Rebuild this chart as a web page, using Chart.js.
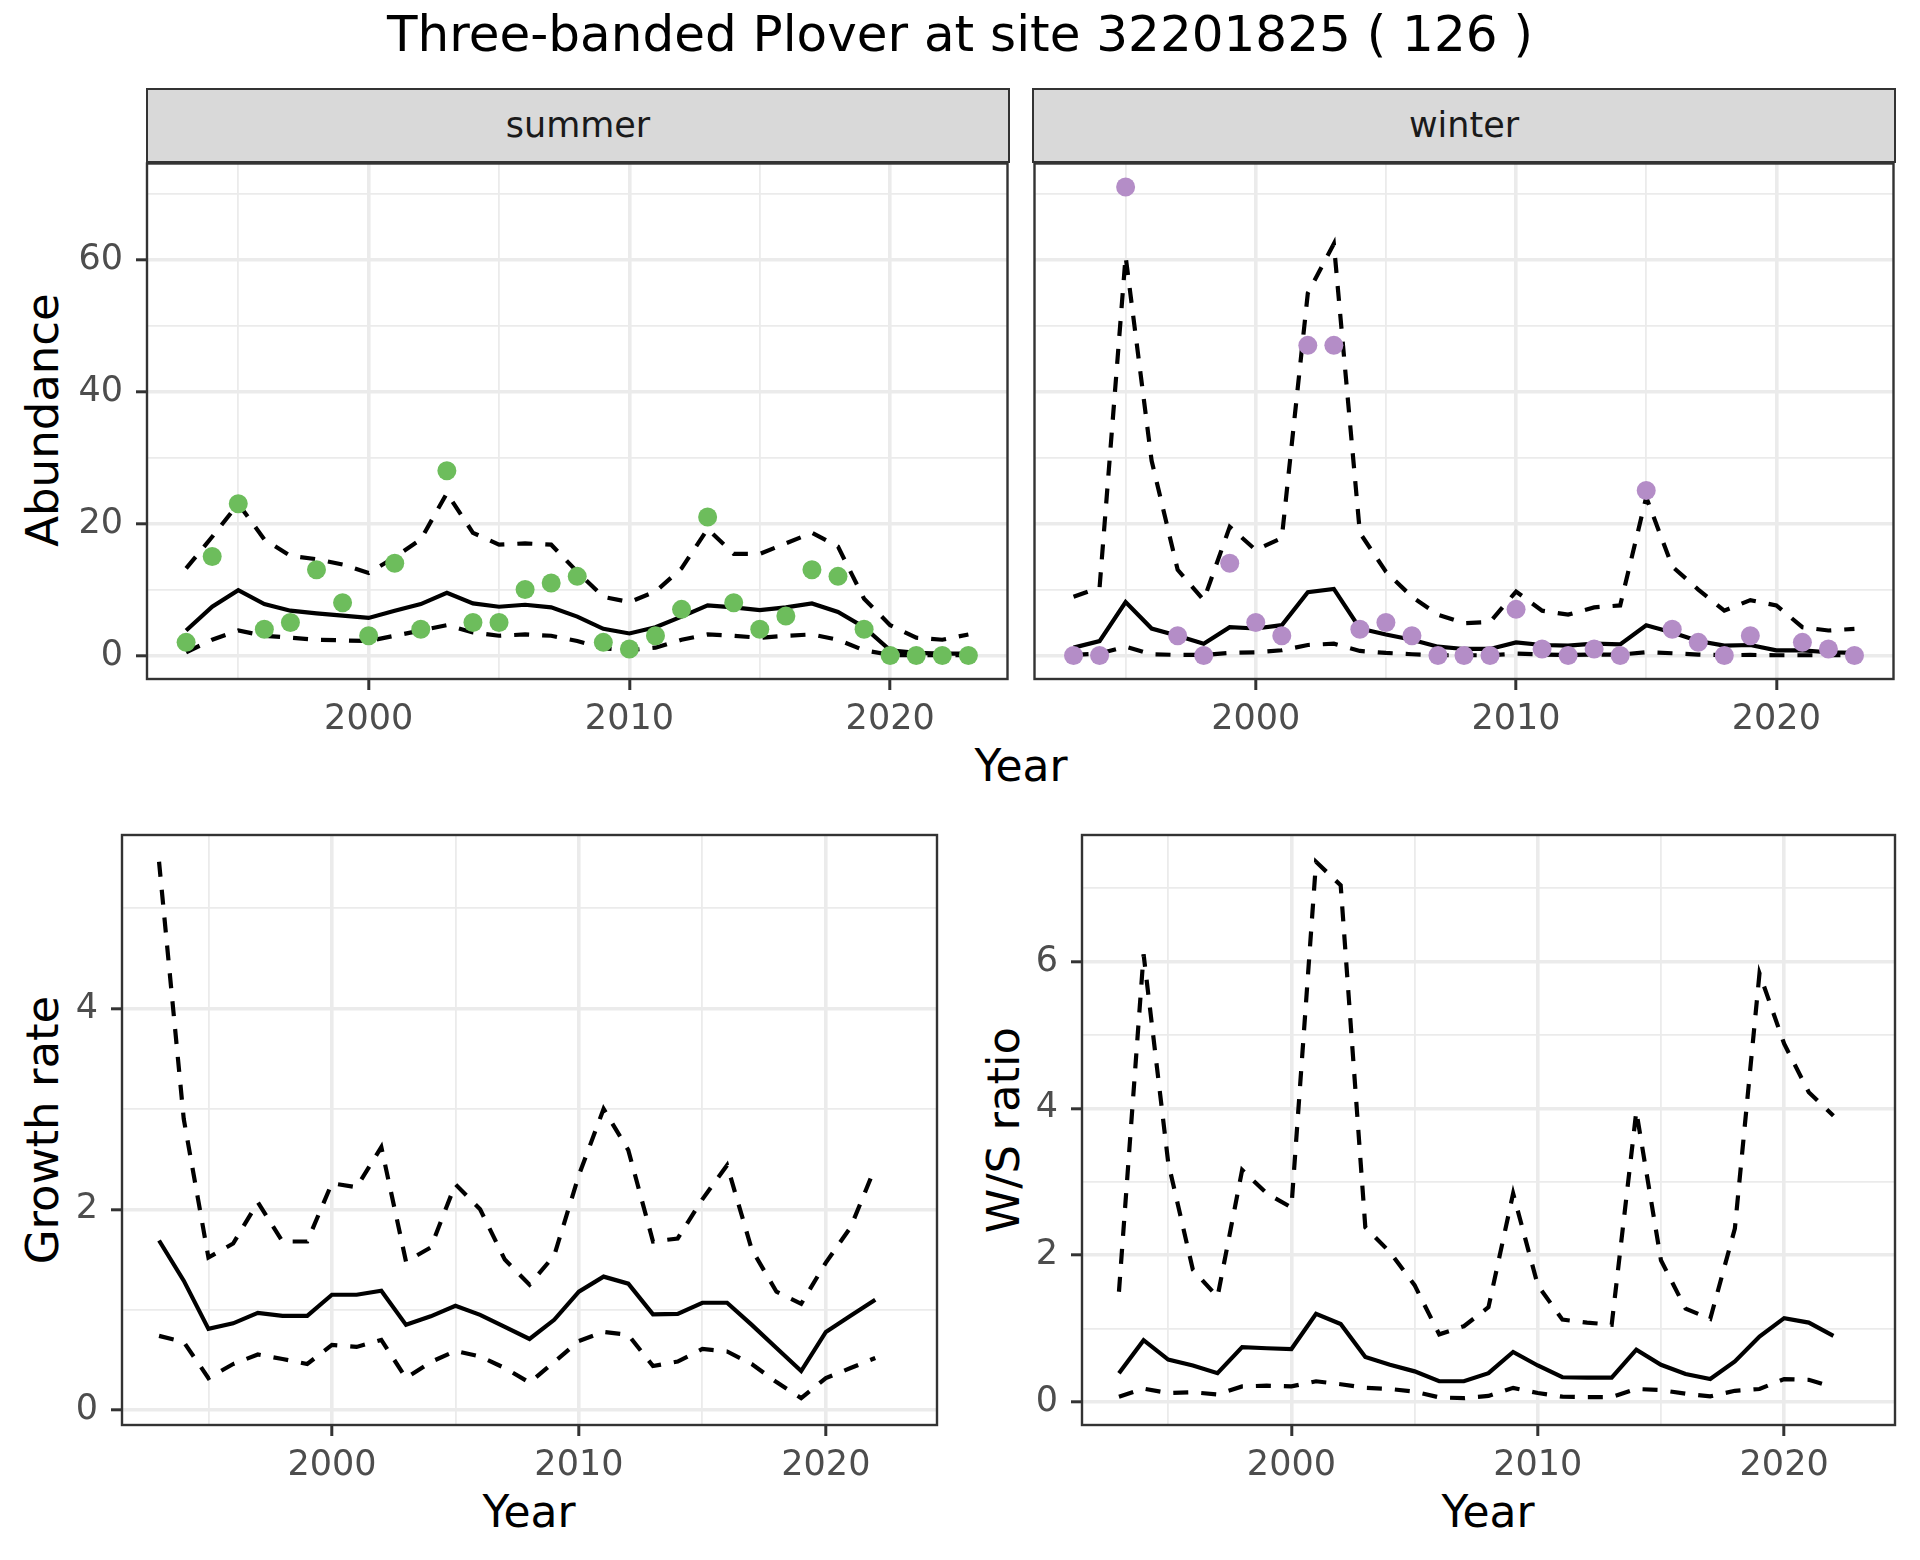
<!DOCTYPE html>
<html>
<head>
<meta charset="utf-8">
<script src="https://cdn.jsdelivr.net/npm/chart.js@4.4.0/dist/chart.umd.min.js"></script>
<style>
  body { margin: 0; background: #fff; }
  #page { position: relative; width: 1920px; height: 1560px; overflow: hidden; font-family: "DejaVu Sans", sans-serif; }
  .txt { position: absolute; white-space: nowrap; line-height: 1; transform: translate(-50%, -50%); color: #000; }
  .rot { transform: translate(-50%, -50%) rotate(-90deg); }
  .strip { position: absolute; box-sizing: border-box; background: #d9d9d9; border: 2.4px solid #333;
           display: flex; align-items: center; justify-content: center; font-size: 35px; color: #1a1a1a; line-height: 1; }
  canvas { position: absolute; }
</style>
</head>
<body>
<div id="page">
  <div class="txt" style="left:960px;top:34px;font-size:50px;">Three-banded Plover at site 32201825 ( 126 )</div>
  <div class="strip" style="left:146px;top:88px;width:864px;height:75px;">summer</div>
  <div class="strip" style="left:1032px;top:88px;width:864px;height:75px;">winter</div>
  <div class="txt" style="left:1021px;top:766px;font-size:44px;">Year</div>
  <div class="txt" style="left:529px;top:1512px;font-size:44px;">Year</div>
  <div class="txt" style="left:1488px;top:1512px;font-size:44px;">Year</div>
  <div class="txt rot" style="left:42px;top:420px;font-size:45px;">Abundance</div>
  <div class="txt rot" style="left:42px;top:1130px;font-size:45px;">Growth rate</div>
  <div class="txt rot" style="left:1003px;top:1130px;font-size:45px;">W/S ratio</div>
</div>
<script>
// years
var years = [1993, 1994, 1995, 1996, 1997, 1998, 1999, 2000, 2001, 2002, 2003, 2004, 2005, 2006, 2007, 2008,
             2009, 2010, 2011, 2012, 2013, 2014, 2015, 2016, 2017, 2018, 2019, 2020, 2021, 2022, 2023];

// summer abundance
var summerObs = [2, 15, 23, 4, 5, 13, 8, 3, 14, 4, 28, 5, 5, 10, 11, 12, 2, 1, 3, 7, 21, 8, 4, 6, 13, 12, 4, 0, 0, 0, 0];
var summerMid = [3.8, 7.4, 9.9, 7.8, 6.8, 6.4, 6.05, 5.7, 6.8, 7.8, 9.5, 7.9, 7.4, 7.7, 7.3, 5.9, 4.05, 3.35, 4.3, 5.9,
                 7.6, 7.3, 6.9, 7.3, 7.9, 6.6, 4.3, 0.8, 0.4, 0.3, 0.3];
var summerHi = [13.2, 18, 23, 17.6, 15.1, 14.6, 13.8, 12.5, 14.9, 17.6, 24.6, 18.6, 16.8, 17, 16.8, 12.7, 8.9, 8.1, 9.7,
                13.2, 19.2, 15.4, 15.4, 17, 18.6, 16.5, 8.6, 4.6, 2.7, 2.4, 3.2];
var summerLo = [0.5, 2.4, 3.8, 3, 2.7, 2.4, 2.3, 2.2, 3, 3.8, 4.6, 3.5, 3, 3.2, 3, 2.2, 1.1, 0.8, 1.2, 2.4, 3.2, 3, 2.7,
                3, 3.2, 2.4, 0.8, 0.1, 0.05, 0.05, 0.05];

// winter abundance
var winterObs = [0, 0, 71, null, 3, 0, 14, 5, 3, 47, 47, 4, 5, 3, 0, 0, 0, 7, 1, 0, 1, 0, 25, 4, 2, 0, 3, null, 2, 1, 0];
var winterMid = [1.2, 2.2, 8.1, 4.1, 3, 1.8, 4.3, 4.1, 4.6, 9.6, 10.1, 4.1, 3.2, 2.4, 1.35, 1, 1, 2, 1.6, 1.5, 1.8, 1.7,
                 4.6, 3.5, 2.2, 1.5, 1.6, 0.8, 0.8, 0.5, 0.4];
var winterHi = [8.9, 10.3, 60.5, 29.5, 13, 8.4, 19.5, 16, 17.8, 54.9, 62.4, 18.6, 12.7, 8.9, 6.2, 4.9, 5.1, 9.7, 6.8, 6.2,
                7.3, 7.6, 24, 13.5, 10, 6.8, 8.4, 7.6, 4.3, 3.8, 4.05];
var winterLo = [0.1, 0.3, 1.35, 0.2, 0.1, 0.1, 0.4, 0.5, 0.8, 1.6, 1.8, 0.7, 0.4, 0.2, 0.05, 0.05, 0.05, 0.3, 0.15, 0.1,
                0.15, 0.15, 0.5, 0.35, 0.15, 0.05, 0.1, 0.05, 0.05, 0.05, 0.05];

// growth rate (1993-2022)
var growthMid = [1.69, 1.29, 0.81, 0.865, 0.97, 0.94, 0.94, 1.15, 1.15, 1.19, 0.85, 0.935, 1.04, 0.95, 0.83, 0.71, 0.9,
                 1.18, 1.33, 1.26, 0.955, 0.96, 1.07, 1.07, 0.85, 0.62, 0.39, 0.78, 0.94, 1.1];
var growthHi = [5.46, 2.9, 1.52, 1.66, 2.07, 1.68, 1.68, 2.26, 2.22, 2.62, 1.48, 1.62, 2.25, 2.0, 1.5, 1.25, 1.54, 2.34,
                3.0, 2.59, 1.68, 1.71, 2.1, 2.44, 1.6, 1.18, 1.06, 1.47, 1.82, 2.42];
var growthLo = [0.74, 0.68, 0.32, 0.46, 0.555, 0.51, 0.46, 0.65, 0.63, 0.7, 0.32, 0.48, 0.59, 0.535, 0.42, 0.275, 0.48,
                0.69, 0.78, 0.75, 0.44, 0.485, 0.61, 0.585, 0.46, 0.28, 0.12, 0.32, 0.42, 0.52];

// winter/summer ratio (1993-2022)
var ratioMid = [0.39, 0.84, 0.575, 0.495, 0.39, 0.745, 0.73, 0.72, 1.2, 1.06, 0.61, 0.505, 0.415, 0.28, 0.28, 0.39, 0.68,
                0.495, 0.335, 0.33, 0.33, 0.71, 0.505, 0.38, 0.31, 0.55, 0.89, 1.14, 1.08, 0.9];
var ratioHi = [1.5, 6.1, 3.26, 1.8, 1.43, 3.16, 2.84, 2.65, 7.36, 7.04, 2.38, 2.04, 1.59, 0.92, 1.03, 1.29, 2.84, 1.59,
               1.12, 1.08, 1.05, 3.96, 1.93, 1.27, 1.13, 2.36, 5.84, 4.88, 4.22, 3.9];
var ratioLo = [0.07, 0.18, 0.12, 0.13, 0.1, 0.21, 0.22, 0.21, 0.28, 0.24, 0.19, 0.175, 0.14, 0.06, 0.05, 0.08, 0.19, 0.12,
               0.07, 0.065, 0.065, 0.175, 0.16, 0.11, 0.075, 0.15, 0.175, 0.31, 0.3, 0.2];

// ticks (grid lines) and labelled ticks
var xTicks = [1995, 2000, 2005, 2010, 2015, 2020];
var xLabels = [2000, 2010, 2020];
var abundTicks = [0, 10, 20, 30, 40, 50, 60, 70];
var abundLabels = [0, 20, 40, 60];
var growthTicks = [0, 1, 2, 3, 4, 5];
var growthLabels = [0, 2, 4];
var ratioTicks = [0, 1, 2, 3, 4, 5, 6, 7];
var ratioLabels = [0, 2, 4, 6];

var GREEN = '#6dbd5c', PURPLE = '#b48dc7';

function pts(xs, ys) {
  var out = [];
  ys.forEach(function (v, i) { if (v !== null) out.push({ x: xs[i], y: v }); });
  return out;
}
function dots(ys, col) {
  return { data: pts(years, ys), showLine: false, pointRadius: 9.5, pointBackgroundColor: col, pointBorderWidth: 0 };
}
function line(ys, dashed) {
  return { data: pts(years, ys), showLine: true, borderColor: '#000', borderWidth: 4.2, pointRadius: 0,
           borderDash: dashed ? [15, 13] : [], fill: false };
}

var frame = {
  id: 'frame',
  afterDraw: function (chart) {
    var a = chart.chartArea, c = chart.ctx;
    c.save();
    c.strokeStyle = '#333';
    c.lineWidth = 2.4;
    c.strokeRect(a.left, a.top, a.right - a.left, a.bottom - a.top);
    c.restore();
  }
};

var font = { family: 'DejaVu Sans', size: 35 };

function noPad(s) { s.paddingTop = 0; s.paddingBottom = 0; s.paddingLeft = 0; s.paddingRight = 0; }

function panel(p) {
  var padL = p.yLabels ? 100 : 8, padT = 8, padR = 8, padB = 62;
  var w = p.r - p.l + padL + padR, h = p.b - p.t + padT + padB;
  var cv = document.createElement('canvas');
  cv.width = w; cv.height = h;
  cv.style.left = (p.l - padL) + 'px'; cv.style.top = (p.t - padT) + 'px';
  cv.style.width = w + 'px'; cv.style.height = h + 'px';
  document.getElementById('page').appendChild(cv);

  function isMaj(list) { return function (c) { return c.tick && list.indexOf(c.tick.value) >= 0; }; }
  var xMaj = isMaj(xLabels), yMaj = isMaj(p.yLabelList);

  new Chart(cv, {
    type: 'scatter',
    data: { datasets: p.datasets },
    options: {
      responsive: false, animation: false, devicePixelRatio: 1,
      layout: { padding: { top: padT, right: padR, left: 0, bottom: 0 } },
      plugins: { legend: { display: false }, tooltip: { enabled: false } },
      scales: {
        x: {
          type: 'linear', min: 1991.5, max: 2024.5,
          afterBuildTicks: function (s) { s.ticks = xTicks.map(function (v) { return { value: v }; }); },
          afterFit: function (s) { s.height = padB; noPad(s); },
          ticks: { callback: function (v) { return xLabels.indexOf(v) >= 0 ? String(v) : ''; },
                   font: font, color: '#4d4d4d', padding: 9, maxRotation: 0, autoSkip: false },
          grid: { color: '#ebebeb', lineWidth: function (c) { return xMaj(c) ? 3.6 : 1.8; },
                  tickColor: function (c) { return xMaj(c) ? '#333' : 'rgba(0,0,0,0)'; },
                  tickWidth: 3, tickLength: 11 },
          border: { display: false }
        },
        y: {
          type: 'linear', min: p.yMin, max: p.yMax,
          afterBuildTicks: function (s) { s.ticks = p.yTickList.map(function (v) { return { value: v }; }); },
          afterFit: function (s) { s.width = padL; noPad(s); },
          ticks: { display: p.yLabels,
                   callback: function (v) { return p.yLabelList.indexOf(v) >= 0 ? String(v) : ''; },
                   font: font, color: '#4d4d4d', padding: 13, autoSkip: false },
          grid: { color: '#ebebeb', lineWidth: function (c) { return yMaj(c) ? 3.6 : 1.8; },
                  drawTicks: p.yLabels,
                  tickColor: function (c) { return yMaj(c) ? '#333' : 'rgba(0,0,0,0)'; },
                  tickWidth: 3, tickLength: 11 },
          border: { display: false }
        }
      }
    },
    plugins: [frame]
  });
}

panel({ l: 147, t: 162, r: 1009, b: 679, yMin: -3.55, yMax: 74.55, yLabels: true,
        yTickList: abundTicks, yLabelList: abundLabels,
        datasets: [dots(summerObs, GREEN), line(summerMid, false), line(summerHi, true), line(summerLo, true)] });
panel({ l: 1033, t: 162, r: 1895, b: 679, yMin: -3.55, yMax: 74.55, yLabels: false,
        yTickList: abundTicks, yLabelList: abundLabels,
        datasets: [dots(winterObs, PURPLE), line(winterMid, false), line(winterHi, true), line(winterLo, true)] });
panel({ l: 122, t: 835, r: 937, b: 1425, yMin: -0.147, yMax: 5.727, yLabels: true,
        yTickList: growthTicks, yLabelList: growthLabels,
        datasets: [line(growthMid, false), line(growthHi, true), line(growthLo, true)] });
panel({ l: 1082, t: 835, r: 1895, b: 1425, yMin: -0.316, yMax: 7.726, yLabels: true,
        yTickList: ratioTicks, yLabelList: ratioLabels,
        datasets: [line(ratioMid, false), line(ratioHi, true), line(ratioLo, true)] });
</script>
</body>
</html>
